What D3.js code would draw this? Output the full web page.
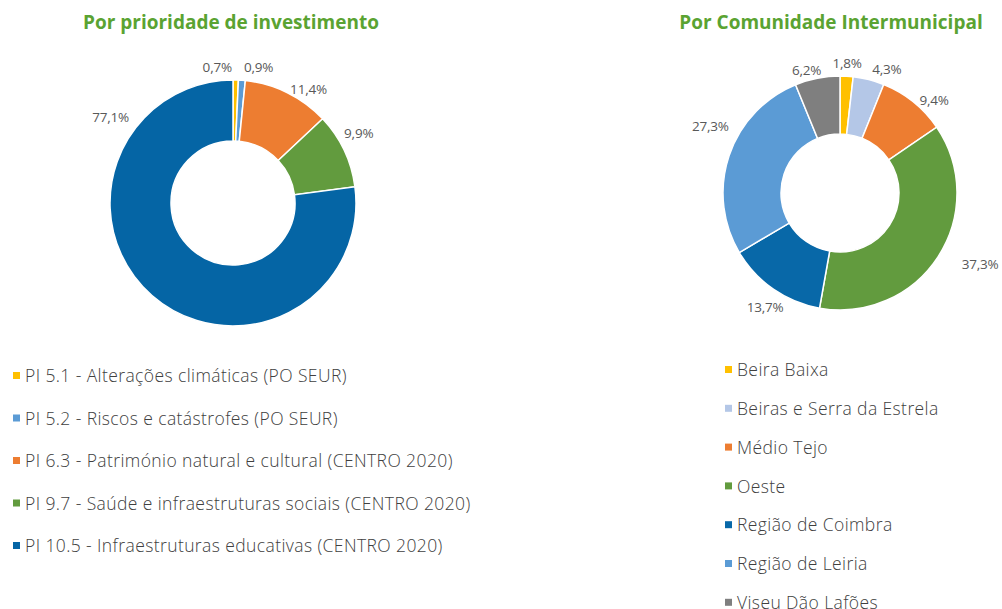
<!DOCTYPE html>
<html>
<head>
<meta charset="utf-8">
<script src="https://cdn.jsdelivr.net/npm/d3@7"></script>
<style>
  body { margin: 0; background: #fff; }
  svg { font-family: "Open Sans", sans-serif; }
</style>
</head>
<body>
<script>
// dados - por prioridade de investimento
var piNames = ['PI 5.1 - Alterações climáticas (PO SEUR)',
               'PI 5.2 - Riscos e catástrofes (PO SEUR)',
               'PI 6.3 - Património natural e cultural (CENTRO 2020)',
               'PI 9.7 - Saúde e infraestruturas sociais (CENTRO 2020)',
               'PI 10.5 - Infraestruturas educativas (CENTRO 2020)'];
var piValues = [0.7, 0.9, 11.4, 9.9, 77.1];
var piColors = ['#ffc000', '#5b9bd5', '#ed7d31', '#629b3e', '#0565a5'];

// dados - por comunidade intermunicipal
var cimNames = ['Beira Baixa', 'Beiras e Serra da Estrela', 'Médio Tejo', 'Oeste',
                'Região de Coimbra', 'Região de Leiria', 'Viseu Dão Lafões'];
var cimValues = [1.8, 4.3, 9.4, 37.3, 13.7, 27.3, 6.2];
var cimColors = ['#ffc000', '#b4c7e7', '#ed7d31', '#629b3e', '#0868a8', '#5b9bd5', '#7f7f7f'];

var width = 1002, height = 609;
var svg = d3.select('body').append('svg')
    .attr('width', width)
    .attr('height', height);

var fmt = function (v) { return d3.format('.1f')(v).replace('.', ',') + '%'; };

function donut(cfg) {
    var g = svg.append('g')
        .attr('transform', 'translate(' + cfg.cx + ',' + cfg.cy + ')');
    var pie = d3.pie().sort(null).value(function (d) { return d; });
    var arcs = pie(cfg.values);
    var arc = d3.arc().innerRadius(cfg.r0).outerRadius(cfg.r1);

    g.selectAll('path')
        .data(arcs)
        .enter()
        .append('path')
        .attr('d', arc)
        .attr('fill', function (d, i) { return cfg.colors[i]; })
        .attr('stroke', '#fff')
        .attr('stroke-width', 1.5);

    // rótulos fora do anel
    g.selectAll('text.lbl')
        .data(arcs)
        .enter()
        .append('text')
        .attr('class', 'lbl')
        .attr('text-anchor', 'middle')
        .attr('dy', '0.35em')
        .attr('font-size', 13.5)
        .attr('letter-spacing', -0.2)
        .attr('fill', '#595959')
        .attr('x', function (d, i) {
            var a = cfg.angle[i] != null ? cfg.angle[i] : (d.startAngle + d.endAngle) / 2;
            return Math.sin(a) * (cfg.r1 + 6) + Math.sin(a) * 19 + cfg.nudge[i][0];
        })
        .attr('y', function (d, i) {
            var a = cfg.angle[i] != null ? cfg.angle[i] : (d.startAngle + d.endAngle) / 2;
            return -Math.cos(a) * (cfg.r1 + 6) - Math.cos(a) * 8 + cfg.nudge[i][1];
        })
        .text(function (d) { return fmt(d.data); });

    svg.append('text')
        .attr('x', cfg.titleX)
        .attr('y', 29)
        .attr('text-anchor', 'middle')
        .attr('font-size', 19)
        .attr('font-weight', 'bold')
        .attr('fill', '#5aa332')
        .text(cfg.title);

    var lg = svg.append('g');
    var rows = lg.selectAll('g')
        .data(cfg.names)
        .enter()
        .append('g')
        .attr('transform', function (d, i) {
            return 'translate(' + cfg.legX + ',' + (cfg.legY + i * cfg.legStep) + ')';
        });
    rows.append('rect')
        .attr('x', 0)
        .attr('y', -4)
        .attr('width', 7)
        .attr('height', 7)
        .attr('fill', function (d, i) { return cfg.colors[i]; });
    rows.append('text')
        .attr('x', 12)
        .attr('dy', '0.35em')
        .attr('font-size', 17.5)
        .attr('letter-spacing', 0.4)
        .attr('font-weight', 300)
        .attr('fill', '#404040')
        .text(function (d) { return d; });
}

donut({
    cx: 233, cy: 203, r0: 62, r1: 123,
    values: piValues, colors: piColors, names: piNames,
    angle: [null, null, null, null, -0.95],
    nudge: [[-19, 1], [15, 1], [10, 9], [-8, -11], [-2, -6]],
    title: 'Por prioridade de investimento', titleX: 231,
    legX: 13, legY: 376, legStep: 42.5
});

donut({
    cx: 840, cy: 193, r0: 59, r1: 117,
    values: cimValues, colors: cimColors, names: cimNames,
    angle: [null, null, null, null, null, null, null],
    nudge: [[-1, 1], [12, 3], [5, 9], [21, 0], [6, 7], [5, -25], [-6, 6]],
    title: 'Por Comunidade Intermunicipal', titleX: 831,
    legX: 725, legY: 370, legStep: 38.8
});
</script>
</body>
</html>
